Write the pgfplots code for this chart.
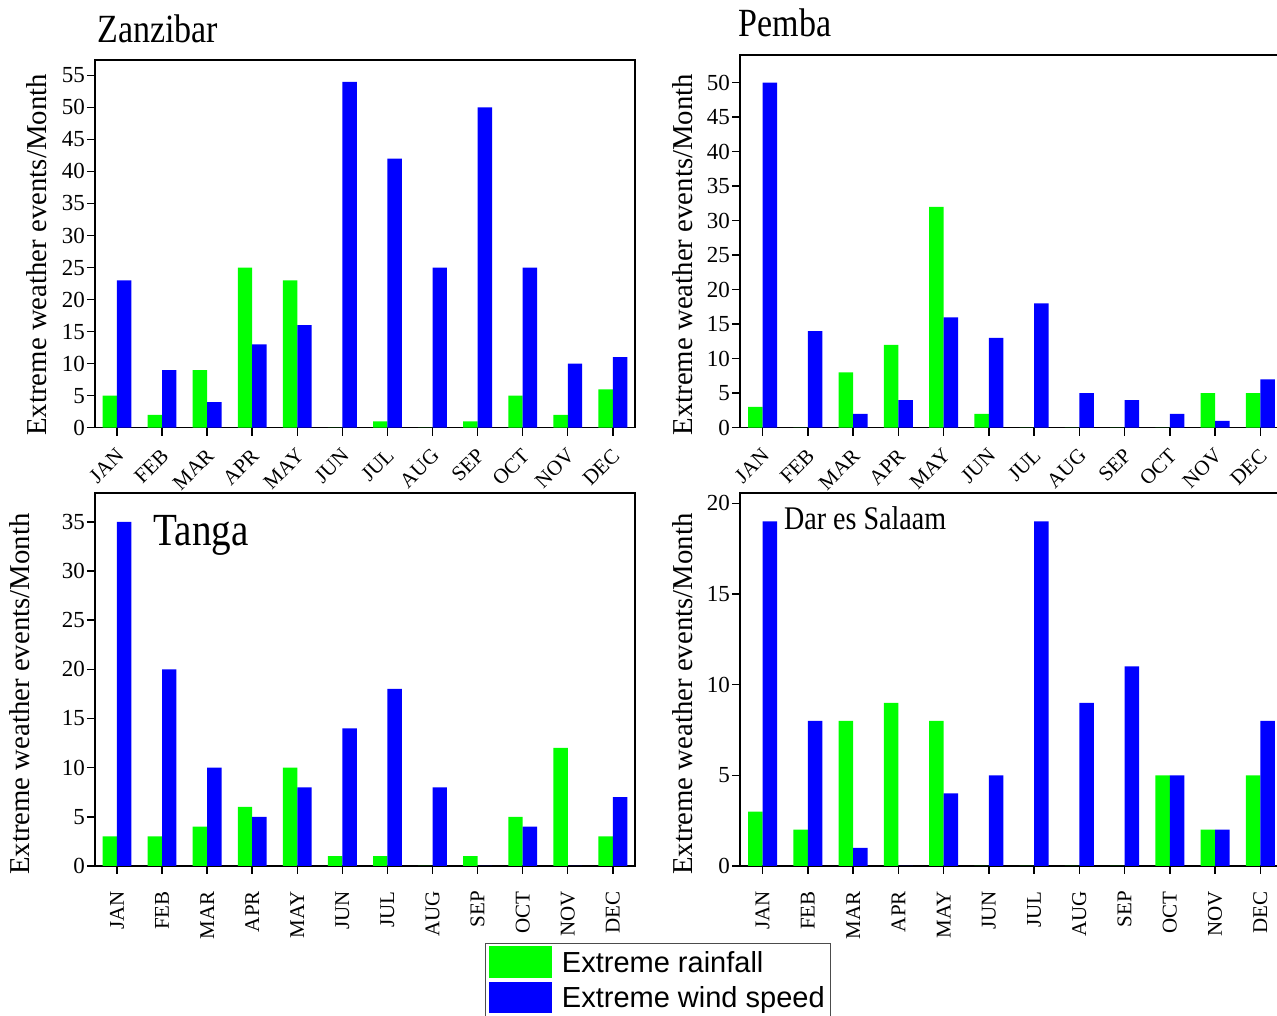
\documentclass[border=0pt]{standalone}
\usepackage{pgfplots}
\usepackage{pgfplotstable}
\pgfplotsset{compat=1.18}
\usepackage{fontspec}
\setmainfont{Liberation Serif}
\newfontfamily\titlefont[FakeStretch=0.85]{Liberation Serif}
\newfontfamily\legfont{Liberation Sans}

\definecolor{rainG}{RGB}{0,255,0}
\definecolor{windB}{RGB}{0,0,255}

% monthly counts of extreme events: m = month index (0 = JAN)
\pgfplotstableread{
m rain wind
0  5 23
1  2  9
2  9  4
3 25 13
4 23 16
5  0 54
6  1 42
7  0 25
8  1 50
9  5 25
10 2 10
11 6 11
}\zanzibar
\pgfplotstableread{
m rain wind
0  3 50
1  0 14
2  8  2
3 12  4
4 32 16
5  2 13
6  0 18
7  0  5
8  0  4
9  0  2
10 5  1
11 5  7
}\pemba
\pgfplotstableread{
m rain wind
0  3 35
1  3 20
2  4 10
3  6  5
4 10  8
5  1 14
6  1 18
7  0  8
8  1  0
9  5  4
10 12 0
11 3  7
}\tanga
\pgfplotstableread{
m rain wind
0  3 19
1  2  8
2  8  1
3  9  0
4  8  4
5  0  5
6  0 19
7  0  9
8  0 11
9  5  5
10 2  2
11 5  8
}\dar

\tikzset{
  paneltitle/.style={font=\titlefont\fontsize{#1}{#1}\selectfont, inner sep=0pt, anchor=base west},
}

\pgfplotsset{
  monthpanel/.style={
    scale only axis,
    ybar=0pt, bar width=0.32,
    ymin=0,
    xmin=-0.5, xmax=11.5,
    xtick={0,...,11},
    xticklabels={JAN,FEB,MAR,APR,MAY,JUN,JUL,AUG,SEP,OCT,NOV,DEC},
    tick align=outside, tick pos=left,
    major tick length=8pt,
    axis line style={line width=1.6pt},
    every tick/.style={black, line width=1.4pt},
    /pgf/number format/assume math mode=true,
    yticklabel style={font=\fontsize{23}{25}\selectfont, inner sep=1pt, xshift=-1pt},
    ylabel={Extreme weather events/Month},
    ylabel style={font=\fontsize{28.8}{31}\selectfont, anchor=center},
  },
  % shifts below are given in the rotated frame of each label
  toprow/.style={xticklabel style={font=\fontsize{21}{24}\selectfont, rotate=45, anchor=north east, inner sep=1pt, xshift=-8.5pt, yshift=-5.7pt}},
  bottomrow/.style={xticklabel style={font=\fontsize{21}{24}\selectfont, rotate=90, anchor=east, inner sep=1pt, xshift=-16pt}},
  rainbar/.style={fill=rainG, draw=none, bar shift=-0.16},
  windbar/.style={fill=windB, draw=none, bar shift=0.16},
}

\begin{document}
\begin{tikzpicture}

% Zanzibar
\begin{axis}[monthpanel, toprow,
  at={(95pt,588.3pt)}, anchor=south west,
  width=539.8pt, height=367.7pt,
  xmin=-0.487, xmax=11.487, ymax=57.4,
  ytick={0,5,...,55},
  ylabel style={at={(axis description cs:-0.108,0.47)}},
  title={Zanzibar},
  % cancel the default 6pt lift of the title
  title style={paneltitle=40, at={(axis description cs:0.004,1.048)}, yshift=-6pt},
]
\addplot[rainbar] table[x=m, y=rain] {\zanzibar};
\addplot[windbar] table[x=m, y=wind] {\zanzibar};
\end{axis}

% Pemba
\begin{axis}[monthpanel, toprow,
  at={(740pt,588.3pt)}, anchor=south west,
  width=543pt, height=372.7pt,
  ymax=54,
  ytick={0,5,...,50},
  ylabel style={at={(axis description cs:-0.105,0.464)}},
  title={Pemba},
  title style={paneltitle=40, at={(axis description cs:-0.003,1.049)}, yshift=-6pt},
]
\addplot[rainbar] table[x=m, y=rain] {\pemba};
\addplot[windbar] table[x=m, y=wind] {\pemba};
\end{axis}

% Tanga
\begin{axis}[monthpanel, bottomrow,
  at={(95pt,150pt)}, anchor=south west,
  width=539.8pt, height=372.7pt,
  xmin=-0.487, xmax=11.487, ymax=37.9,
  ytick={0,5,...,35},
  ylabel style={at={(axis description cs:-0.139,0.461)}},
  legend entries={Extreme rainfall, Extreme wind speed},
  legend cell align=left,
  legend image code/.code={\fill[#1] (0pt,-15.5pt) rectangle (63pt,16pt);},
  legend style={at={(axis description cs:0.7217,-0.2064)}, anchor=north west,
    draw=black!70, line width=0.8pt, font=\legfont\fontsize{29}{32}\selectfont,
    inner xsep=4pt, inner ysep=3pt, row sep=4pt,
    /tikz/every odd column/.append style={column sep=8pt}},
]
\addplot[rainbar] table[x=m, y=rain] {\tanga};
\addplot[windbar] table[x=m, y=wind] {\tanga};
\node[paneltitle=46] at (axis description cs:0.108,0.861) {Tanga};
\end{axis}

% Dar es Salaam
\begin{axis}[monthpanel, bottomrow,
  at={(740pt,150pt)}, anchor=south west,
  width=543pt, height=372.7pt,
  ymax=20.55,
  ytick={0,5,...,20},
  ylabel style={at={(axis description cs:-0.105,0.461)}},
]
\addplot[rainbar] table[x=m, y=rain] {\dar};
\addplot[windbar] table[x=m, y=wind] {\dar};
\node[paneltitle=33] at (axis description cs:0.081,0.903) {Dar es Salaam};
\end{axis}

\pgfresetboundingbox
\useasboundingbox (0pt,0pt) rectangle (1277pt,1016pt);
\end{tikzpicture}
\end{document}
